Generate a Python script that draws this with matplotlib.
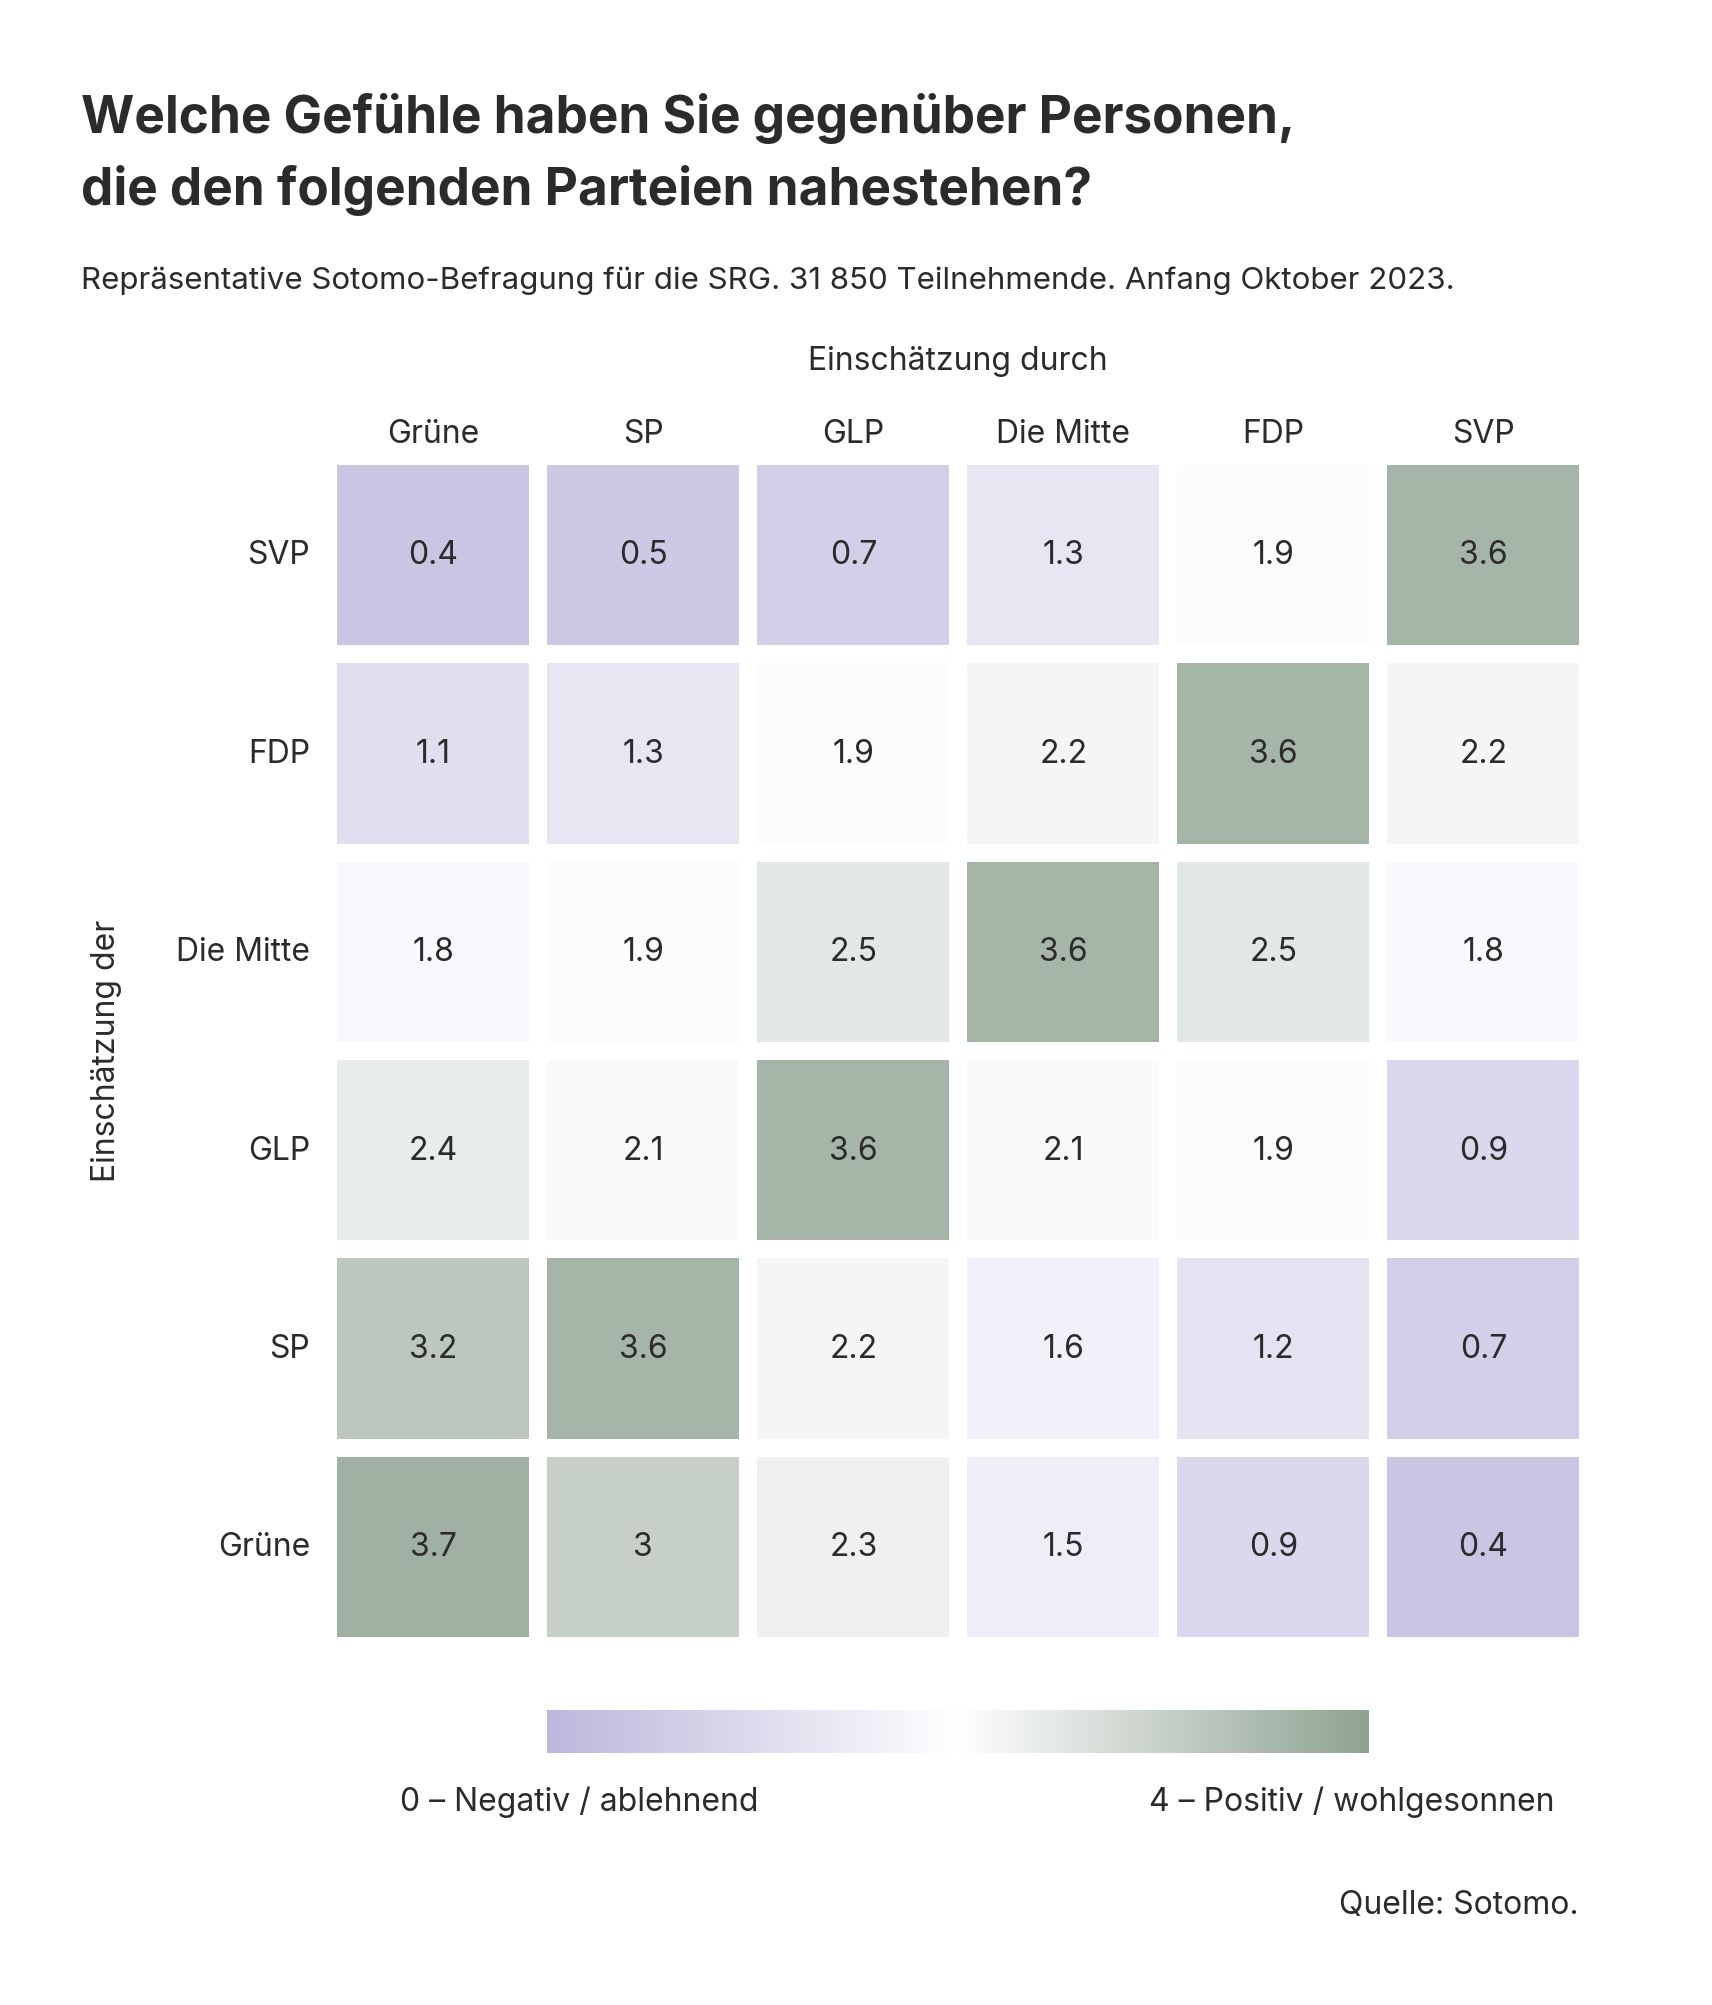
import matplotlib.pyplot as plt
import numpy as np
from matplotlib.colors import LinearSegmentedColormap
from matplotlib.patches import Rectangle

plt.rcParams['font.family'] = ['Inter', 'DejaVu Sans']

cols = ["Grüne", "SP", "GLP", "Die Mitte", "FDP", "SVP"]
rows = ["SVP", "FDP", "Die Mitte", "GLP", "SP", "Grüne"]
vals = [
    [0.4, 0.5, 0.7, 1.3, 1.9, 3.6],
    [1.1, 1.3, 1.9, 2.2, 3.6, 2.2],
    [1.8, 1.9, 2.5, 3.6, 2.5, 1.8],
    [2.4, 2.1, 3.6, 2.1, 1.9, 0.9],
    [3.2, 3.6, 2.2, 1.6, 1.2, 0.7],
    [3.7, 3.0, 2.3, 1.5, 0.9, 0.4],
]
labels = [["3" if v == 3.0 else f"{v:g}" for v in r] for r in vals]

cmap = LinearSegmentedColormap.from_list(
    "sotomo", [(0, "#beb6dc"), (0.5, "#ffffff"), (1, "#8fa393")])
txt = "#2b2b2b"

W, H = 1330, 1559
fig = plt.figure(figsize=(17.12, 20.06), dpi=100)
def fx(x): return x / W
def fy(y): return 1 - y / H

fig.text(fx(63), fy(92), "Welche Gefühle haben Sie gegenüber Personen,", fontsize=37,
         fontweight="bold", color=txt, va="center")
fig.text(fx(63), fy(148), "die den folgenden Parteien nahestehen?", fontsize=37,
         fontweight="bold", color=txt, va="center")
fig.text(fx(63), fy(218), "Repräsentative Sotomo-Befragung für die SRG. 31 850 Teilnehmende. Anfang Oktober 2023.",
         fontsize=22.5, color=txt, va="center")
fig.text(fx(744), fy(281), "Einschätzung durch", fontsize=23, color=txt, ha="center", va="center")
fig.text(fx(83), fy(817), "Einschätzung der", fontsize=23, color=txt, ha="center", va="center", rotation=90)

ax = fig.add_axes([fx(262), fy(1273), fx(1227) - fx(262), fy(362) - fy(1273)])
gx = 14 / 163.2
gy = 14 / 154.2
ax.set_xlim(0, 6 - gx)
ax.set_ylim(6 - gy, 0)
ax.axis("off")
for i, r in enumerate(rows):
    for j, c in enumerate(cols):
        v = vals[i][j]
        ax.add_patch(Rectangle((j, i), 1 - gx, 1 - gy, color=cmap(v / 4), lw=0))
        ax.text(j + (1 - gx) / 2, i + (1 - gy) / 2, labels[i][j], ha="center", va="center",
                fontsize=23, color=txt)
for j, c in enumerate(cols):
    ax.text(j + (1 - gx) / 2, -0.16, c, ha="center", va="center", fontsize=23, color=txt)
for i, r in enumerate(rows):
    ax.text(-0.13, i + (1 - gy) / 2, r, ha="right", va="center", fontsize=23, color=txt)

cax = fig.add_axes([fx(425), fy(1363), fx(1063) - fx(425), fy(1330) - fy(1363)])
cax.imshow(np.linspace(0, 4, 512).reshape(1, -1), cmap=cmap, vmin=0, vmax=4, aspect="auto")
cax.axis("off")
fig.text(fx(450), fy(1401), "0 – Negativ / ablehnend", fontsize=23, color=txt, ha="center", va="center")
fig.text(fx(1050), fy(1401), "4 – Positiv / wohlgesonnen", fontsize=23, color=txt, ha="center", va="center")
fig.text(fx(1226), fy(1481), "Quelle: Sotomo.", fontsize=23, color=txt, ha="right", va="center")

fig.savefig("out.png", dpi=100, facecolor="white")
